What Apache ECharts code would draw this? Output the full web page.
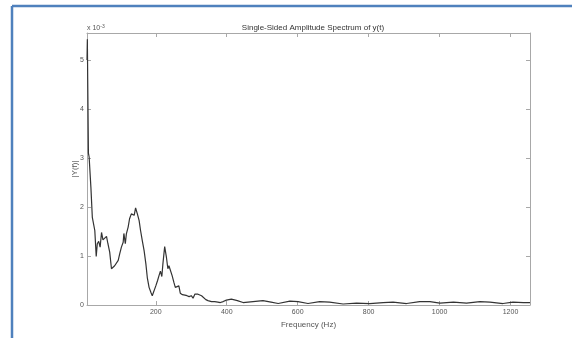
<!DOCTYPE html>
<html>
<head>
<meta charset="utf-8">
<script src="https://cdn.jsdelivr.net/npm/echarts@6/dist/echarts.min.js"></script>
<style>
  html, body { margin: 0; padding: 0; background: #fff; }
  #chart { width: 572px; height: 338px; }
</style>
</head>
<body>
<div id="chart"></div>
<script>
// frequency (Hz) and single-sided amplitude (x 10^-3)
var freqHz = [6, 7, 8, 10, 12, 14, 17, 21, 25, 28, 32, 35, 39, 43, 47, 51, 56, 61, 65, 70,
    75, 79, 84, 89, 94, 98, 103, 108, 110, 114, 117, 122, 126, 131, 136, 139, 143, 148, 153, 157,
    162, 167, 172, 176, 181, 186, 190, 195, 200, 205, 209, 213, 217, 220, 225, 230, 234, 237, 241, 246,
    251, 255, 260, 265, 269, 275, 282, 288, 294, 300, 305, 310, 314, 319, 324, 329, 333, 341, 347, 357,
    366, 375, 382, 390, 399, 413, 430, 446, 474, 502, 525, 545, 578, 601, 629, 662, 690, 728, 766, 803,
    841, 869, 907, 944, 973, 1001, 1039, 1076, 1114, 1142, 1179, 1207, 1236, 1255];
var amplitude = [5.0, 5.42, 4.6, 3.1, 3.02, 3.05, 2.4, 1.79, 1.83, 1.52, 0.99, 1.25, 1.30, 1.18, 1.48, 1.33, 1.30, 1.40, 1.25, 1.08,
    0.74, 0.72, 0.80, 0.84, 0.91, 1.04, 1.18, 1.28, 1.46, 1.25, 1.45, 1.59, 1.76, 1.86, 1.89, 1.83, 1.98, 1.86, 1.72, 1.52,
    1.31, 1.11, 0.84, 0.56, 0.36, 0.26, 0.19, 0.17, 0.39, 0.50, 0.60, 0.69, 0.58, 0.84, 1.19, 0.97, 0.74, 0.80, 0.77, 0.60,
    0.46, 0.36, 0.39, 0.39, 0.24, 0.21, 0.20, 0.19, 0.17, 0.19, 0.14, 0.22, 0.26, 0.22, 0.21, 0.19, 0.16, 0.11, 0.09, 0.07,
    0.07, 0.06, 0.05, 0.07, 0.10, 0.12, 0.09, 0.05, 0.07, 0.09, 0.06, 0.03, 0.08, 0.07, 0.03, 0.07, 0.06, 0.02, 0.04, 0.03,
    0.05, 0.06, 0.03, 0.07, 0.07, 0.04, 0.06, 0.04, 0.07, 0.06, 0.03, 0.06, 0.05, 0.05];
var xTicks = [200, 400, 600, 800, 1000, 1200];

var chart = echarts.init(document.getElementById('chart'));

var axisGray = '#a8a8a8';
var textGray = '#555';

var seriesData = freqHz.map(function (f, i) { return [f, amplitude[i]]; });

var option = {
    animation: false,
    title: {
        text: 'Single-Sided Amplitude Spectrum of y(t)',
        left: 308,
        top: 19,
        textAlign: 'center',
        textStyle: { fontSize: 8, fontWeight: 'normal', color: '#333', fontFamily: 'Liberation Sans' }
    },
    grid: { left: 87, top: 33, right: 42, bottom: 33 },
    xAxis: [
        {
            type: 'value',
            min: 6,
            max: 1255,
            name: 'Frequency (Hz)',
            nameLocation: 'middle',
            nameGap: 15,
            nameTextStyle: { fontSize: 8, color: textGray, fontFamily: 'Liberation Sans' },
            axisLine: { onZero: false, lineStyle: { color: axisGray, width: 1 } },
            axisTick: { inside: true, length: 4, customValues: xTicks, lineStyle: { color: axisGray } },
            axisLabel: {
                customValues: xTicks, fontSize: 7, color: textGray, margin: 4, fontFamily: 'Liberation Sans',
                formatter: function (v) { return String(v); }
            },
            splitLine: { show: false }
        },
        {
            type: 'value',
            position: 'top',
            min: 6,
            max: 1255,
            axisLine: { onZero: false, lineStyle: { color: axisGray, width: 1 } },
            axisTick: { inside: true, length: 4, customValues: xTicks, lineStyle: { color: axisGray } },
            axisLabel: { show: false },
            splitLine: { show: false }
        }
    ],
    yAxis: [
        {
            type: 'value',
            min: 0,
            max: 5.55,
            interval: 1,
            name: '|Y(f)|',
            nameLocation: 'middle',
            nameGap: 8,
            nameMoveOverlap: false,
            nameTextStyle: { fontSize: 8, color: textGray, fontFamily: 'Liberation Sans' },
            axisLine: { show: true, lineStyle: { color: axisGray, width: 1 } },
            axisTick: { show: true, inside: true, length: 4, lineStyle: { color: axisGray } },
            axisLabel: { fontSize: 7, color: textGray, margin: 3, showMaxLabel: false, fontFamily: 'Liberation Sans' },
            splitLine: { show: false }
        },
        {
            type: 'value',
            position: 'right',
            min: 0,
            max: 5.55,
            interval: 1,
            axisLine: { show: true, lineStyle: { color: axisGray, width: 1 } },
            axisTick: { show: true, inside: true, length: 4, lineStyle: { color: axisGray } },
            axisLabel: { show: false },
            splitLine: { show: false }
        }
    ],
    graphic: [
        // frame of the pasted picture
        { type: 'line', shape: { x1: 12, y1: 6, x2: 572, y2: 6 }, style: { stroke: '#4f81bd', lineWidth: 2.5 } },
        { type: 'line', shape: { x1: 12, y1: 6, x2: 12, y2: 338 }, style: { stroke: '#4f81bd', lineWidth: 2.5 } },
        // exponent label
        {
            type: 'text', left: 87, top: 24,
            style: {
                text: '{b|x 10}{s|-3}',
                rich: {
                    b: { fontSize: 7, fill: textGray, fontFamily: 'Liberation Sans' },
                    s: { fontSize: 5, fill: textGray, verticalAlign: 'top', padding: [0, 0, 4, 0], fontFamily: 'Liberation Sans' }
                }
            }
        }
    ],
    series: [
        {
            type: 'line',
            data: seriesData,
            showSymbol: false,
            smooth: false,
            lineStyle: { color: '#333', width: 1.2 }
        }
    ]
};

chart.setOption(option);
</script>
</body>
</html>
